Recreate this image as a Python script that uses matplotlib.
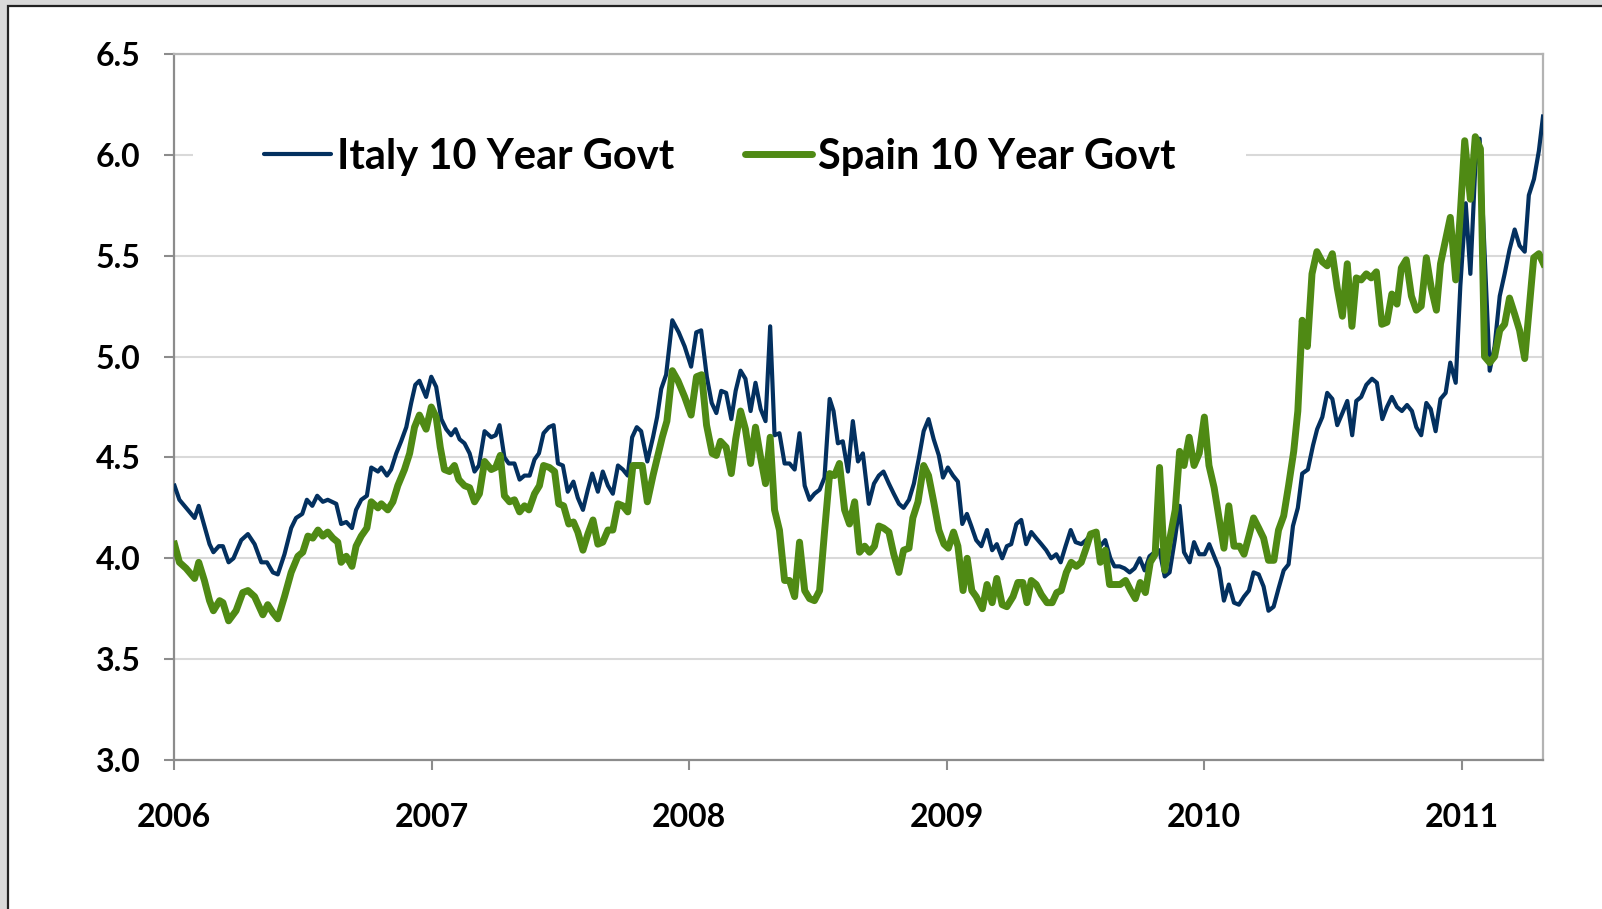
import matplotlib
matplotlib.use("Agg")
import matplotlib.pyplot as plt
from matplotlib.patches import Rectangle
from matplotlib.lines import Line2D

plt.rcParams['font.family'] = ['Lato', 'DejaVu Sans']
plt.rcParams['font.weight'] = 'bold'

# years since start of 2006, weekly readings
italy_t = [0.002, 0.021, 0.047, 0.080, 0.096, 0.118, 0.138, 0.153, 0.174, 0.190, 0.212, 0.231, 0.261, 0.287, 0.313,
           0.339, 0.361, 0.384, 0.403, 0.429, 0.455, 0.474, 0.498, 0.516, 0.537, 0.556, 0.578, 0.597, 0.630, 0.649,
           0.669, 0.691, 0.707, 0.727, 0.749, 0.766, 0.792, 0.805, 0.827, 0.843, 0.863, 0.882, 0.902, 0.921, 0.937,
           0.953, 0.979, 0.999, 1.018, 1.038, 1.057, 1.076, 1.093, 1.109, 1.128, 1.148, 1.167, 1.184, 1.206, 1.232,
           1.249, 1.264, 1.283, 1.300, 1.322, 1.342, 1.361, 1.381, 1.400, 1.417, 1.435, 1.456, 1.474, 1.491, 1.510,
           1.529, 1.551, 1.568, 1.588, 1.607, 1.624, 1.646, 1.665, 1.685, 1.704, 1.724, 1.743, 1.762, 1.779, 1.797,
           1.814, 1.838, 1.860, 1.876, 1.892, 1.911, 1.935, 1.960, 1.983, 2.008, 2.028, 2.047, 2.069, 2.088, 2.106,
           2.125, 2.144, 2.164, 2.181, 2.200, 2.219, 2.239, 2.258, 2.278, 2.297, 2.315, 2.332, 2.351, 2.371, 2.390,
           2.410, 2.429, 2.449, 2.468, 2.487, 2.507, 2.526, 2.546, 2.561, 2.578, 2.597, 2.617, 2.636, 2.656, 2.675,
           2.698, 2.718, 2.737, 2.755, 2.776, 2.795, 2.815, 2.833, 2.854, 2.873, 2.893, 2.911, 2.930, 2.950, 2.970,
           2.986, 3.005, 3.025, 3.044, 3.061, 3.079, 3.096, 3.115, 3.135, 3.157, 3.177, 3.195, 3.216, 3.234, 3.251,
           3.271, 3.290, 3.309, 3.329, 3.348, 3.368, 3.387, 3.406, 3.426, 3.443, 3.462, 3.482, 3.501, 3.523, 3.542,
           3.562, 3.581, 3.597, 3.616, 3.636, 3.652, 3.672, 3.691, 3.711, 3.730, 3.750, 3.769, 3.788, 3.808, 3.827,
           3.847, 3.866, 3.886, 3.905, 3.922, 3.944, 3.961, 3.981, 4.002, 4.020, 4.039, 4.058, 4.077, 4.096, 4.116,
           4.135, 4.155, 4.174, 4.192, 4.212, 4.231, 4.250, 4.270, 4.289, 4.309, 4.328, 4.345, 4.364, 4.381, 4.403,
           4.423, 4.439, 4.459, 4.478, 4.498, 4.517, 4.537, 4.556, 4.575, 4.591, 4.610, 4.630, 4.652, 4.671, 4.692,
           4.710, 4.729, 4.749, 4.768, 4.788, 4.807, 4.824, 4.843, 4.863, 4.880, 4.899, 4.918, 4.938, 4.956, 4.977,
           4.995, 5.016, 5.034, 5.053, 5.070, 5.109, 5.128, 5.148, 5.167, 5.186, 5.206, 5.225, 5.245, 5.261, 5.281,
           5.300, 5.316]
italy_y = [4.36, 4.29, 4.25, 4.20, 4.26, 4.16, 4.07, 4.03, 4.06, 4.06, 3.98, 4.00, 4.09, 4.12, 4.07,
           3.98, 3.98, 3.93, 3.92, 4.02, 4.15, 4.20, 4.22, 4.29, 4.26, 4.31, 4.28, 4.29, 4.27, 4.17,
           4.18, 4.15, 4.24, 4.29, 4.31, 4.45, 4.43, 4.45, 4.41, 4.44, 4.52, 4.58, 4.65, 4.77, 4.86,
           4.88, 4.80, 4.90, 4.85, 4.69, 4.64, 4.61, 4.64, 4.59, 4.57, 4.52, 4.43, 4.46, 4.63, 4.60,
           4.61, 4.66, 4.50, 4.47, 4.47, 4.39, 4.41, 4.41, 4.49, 4.52, 4.62, 4.65, 4.66, 4.47, 4.46,
           4.33, 4.38, 4.30, 4.24, 4.34, 4.42, 4.33, 4.43, 4.36, 4.32, 4.46, 4.44, 4.41, 4.60, 4.65,
           4.63, 4.48, 4.60, 4.70, 4.84, 4.91, 5.18, 5.12, 5.05, 4.95, 5.12, 5.13, 4.90, 4.77, 4.72,
           4.83, 4.82, 4.69, 4.83, 4.93, 4.89, 4.73, 4.87, 4.74, 4.68, 5.15, 4.61, 4.62, 4.47, 4.47,
           4.44, 4.62, 4.36, 4.29, 4.32, 4.34, 4.40, 4.79, 4.73, 4.57, 4.58, 4.43, 4.68, 4.48, 4.52,
           4.27, 4.37, 4.41, 4.43, 4.37, 4.32, 4.27, 4.25, 4.29, 4.37, 4.50, 4.63, 4.69, 4.59, 4.51,
           4.40, 4.45, 4.41, 4.38, 4.17, 4.22, 4.16, 4.09, 4.06, 4.14, 4.04, 4.07, 4.00, 4.06, 4.07,
           4.17, 4.19, 4.07, 4.13, 4.10, 4.07, 4.04, 4.00, 4.02, 3.98, 4.06, 4.14, 4.08, 4.07, 4.09,
           4.12, 4.11, 4.06, 4.09, 4.00, 3.96, 3.96, 3.95, 3.93, 3.95, 4.00, 3.94, 4.01, 4.03, 4.04,
           3.91, 3.93, 4.09, 4.26, 4.03, 3.98, 4.08, 4.02, 4.02, 4.07, 4.01, 3.95, 3.79, 3.87, 3.78,
           3.77, 3.81, 3.84, 3.93, 3.92, 3.86, 3.74, 3.76, 3.85, 3.94, 3.97, 4.16, 4.25, 4.42, 4.44,
           4.56, 4.64, 4.70, 4.82, 4.79, 4.66, 4.72, 4.78, 4.61, 4.78, 4.80, 4.86, 4.89, 4.87, 4.69,
           4.75, 4.80, 4.75, 4.73, 4.76, 4.73, 4.65, 4.61, 4.77, 4.74, 4.63, 4.79, 4.82, 4.97, 4.87,
           5.35, 5.76, 5.41, 5.94, 6.08, 4.93, 5.05, 5.30, 5.41, 5.53, 5.63, 5.55, 5.52, 5.80, 5.88,
           6.02, 6.19]

spain_t = [0.002, 0.021, 0.047, 0.080, 0.096, 0.118, 0.138, 0.153, 0.177, 0.190, 0.212, 0.241, 0.267, 0.287, 0.313,
           0.345, 0.364, 0.384, 0.403, 0.429, 0.455, 0.481, 0.500, 0.520, 0.539, 0.559, 0.578, 0.597, 0.617, 0.636,
           0.649, 0.669, 0.691, 0.707, 0.727, 0.749, 0.766, 0.792, 0.805, 0.830, 0.850, 0.869, 0.895, 0.915, 0.934,
           0.953, 0.979, 0.999, 1.018, 1.034, 1.050, 1.070, 1.089, 1.106, 1.128, 1.148, 1.167, 1.186, 1.206, 1.232,
           1.249, 1.267, 1.283, 1.303, 1.322, 1.342, 1.361, 1.378, 1.400, 1.419, 1.435, 1.458, 1.478, 1.494, 1.513,
           1.533, 1.551, 1.568, 1.588, 1.607, 1.627, 1.646, 1.665, 1.685, 1.704, 1.724, 1.743, 1.762, 1.782, 1.801,
           1.818, 1.838, 1.860, 1.879, 1.896, 1.914, 1.935, 1.957, 1.983, 2.008, 2.029, 2.049, 2.068, 2.090, 2.106,
           2.122, 2.144, 2.164, 2.181, 2.200, 2.219, 2.239, 2.258, 2.278, 2.297, 2.315, 2.332, 2.351, 2.371, 2.390,
           2.410, 2.429, 2.449, 2.468, 2.487, 2.507, 2.526, 2.546, 2.565, 2.584, 2.604, 2.623, 2.643, 2.662, 2.682,
           2.701, 2.720, 2.737, 2.755, 2.776, 2.795, 2.815, 2.833, 2.854, 2.869, 2.889, 2.911, 2.930, 2.950, 2.970,
           2.990, 3.007, 3.027, 3.044, 3.064, 3.080, 3.098, 3.115, 3.139, 3.157, 3.177, 3.195, 3.216, 3.234, 3.258,
           3.277, 3.296, 3.312, 3.329, 3.348, 3.368, 3.390, 3.410, 3.428, 3.445, 3.465, 3.484, 3.504, 3.523, 3.542,
           3.559, 3.581, 3.597, 3.616, 3.633, 3.652, 3.674, 3.695, 3.715, 3.733, 3.752, 3.772, 3.791, 3.810, 3.827,
           3.847, 3.866, 3.888, 3.905, 3.922, 3.942, 3.961, 3.981, 4.001, 4.019, 4.039, 4.058, 4.077, 4.096, 4.116,
           4.138, 4.155, 4.174, 4.192, 4.212, 4.231, 4.250, 4.271, 4.289, 4.309, 4.328, 4.348, 4.364, 4.381, 4.401,
           4.419, 4.438, 4.459, 4.478, 4.498, 4.517, 4.537, 4.556, 4.574, 4.591, 4.610, 4.630, 4.649, 4.669, 4.690,
           4.710, 4.729, 4.749, 4.766, 4.785, 4.805, 4.824, 4.843, 4.863, 4.882, 4.902, 4.918, 4.938, 4.956, 4.977,
           4.995, 5.012, 5.034, 5.053, 5.073, 5.089, 5.109, 5.128, 5.148, 5.167, 5.186, 5.206, 5.225, 5.245, 5.264,
           5.280, 5.300, 5.318]
spain_y = [4.07, 3.98, 3.95, 3.90, 3.98, 3.89, 3.79, 3.74, 3.79, 3.78, 3.69, 3.74, 3.83, 3.84, 3.81,
           3.72, 3.77, 3.73, 3.70, 3.81, 3.93, 4.01, 4.03, 4.11, 4.10, 4.14, 4.11, 4.13, 4.10, 4.08,
           3.98, 4.01, 3.96, 4.06, 4.11, 4.15, 4.28, 4.25, 4.27, 4.24, 4.28, 4.36, 4.44, 4.52, 4.65,
           4.71, 4.64, 4.75, 4.70, 4.55, 4.44, 4.43, 4.46, 4.39, 4.36, 4.35, 4.28, 4.32, 4.48, 4.44,
           4.45, 4.51, 4.31, 4.28, 4.29, 4.23, 4.26, 4.24, 4.32, 4.36, 4.46, 4.45, 4.43, 4.27, 4.26,
           4.17, 4.18, 4.13, 4.04, 4.12, 4.19, 4.07, 4.08, 4.14, 4.14, 4.27, 4.26, 4.23, 4.46, 4.46,
           4.46, 4.28, 4.41, 4.51, 4.60, 4.68, 4.93, 4.88, 4.80, 4.71, 4.90, 4.91, 4.66, 4.52, 4.51,
           4.58, 4.55, 4.42, 4.59, 4.73, 4.64, 4.47, 4.65, 4.50, 4.37, 4.60, 4.24, 4.14, 3.89, 3.89,
           3.81, 4.08, 3.84, 3.80, 3.79, 3.84, 4.13, 4.42, 4.41, 4.47, 4.24, 4.17, 4.28, 4.03, 4.06,
           4.03, 4.06, 4.16, 4.15, 4.13, 4.02, 3.93, 4.04, 4.05, 4.20, 4.28, 4.46, 4.41, 4.28, 4.14,
           4.07, 4.05, 4.13, 4.06, 3.84, 4.00, 3.84, 3.81, 3.75, 3.87, 3.78, 3.90, 3.77, 3.76, 3.81,
           3.88, 3.88, 3.78, 3.89, 3.87, 3.82, 3.78, 3.78, 3.83, 3.84, 3.93, 3.98, 3.96, 3.98, 4.05,
           4.12, 4.13, 3.98, 4.04, 3.87, 3.87, 3.87, 3.89, 3.84, 3.80, 3.88, 3.83, 3.98, 4.02, 4.45,
           3.94, 4.09, 4.24, 4.53, 4.46, 4.60, 4.46, 4.52, 4.70, 4.46, 4.35, 4.20, 4.05, 4.26, 4.06,
           4.06, 4.02, 4.11, 4.20, 4.15, 4.10, 3.99, 3.99, 4.14, 4.21, 4.36, 4.53, 4.73, 5.18, 5.05,
           5.41, 5.52, 5.47, 5.45, 5.51, 5.34, 5.20, 5.46, 5.15, 5.39, 5.38, 5.41, 5.39, 5.42, 5.16,
           5.17, 5.31, 5.26, 5.44, 5.48, 5.30, 5.23, 5.25, 5.49, 5.34, 5.23, 5.46, 5.58, 5.69, 5.38,
           5.71, 6.07, 5.78, 6.09, 6.03, 5.00, 4.97, 5.00, 5.13, 5.16, 5.29, 5.21, 5.13, 4.99, 5.26,
           5.49, 5.51, 5.46]

start_year = 2006
year_ticks = [2006, 2007, 2008, 2009, 2010, 2011]
value_ticks = [3.0, 3.5, 4.0, 4.5, 5.0, 5.5, 6.0, 6.5]
labels = ['Italy 10 Year Govt', 'Spain 10 Year Govt']

italy_x = [start_year + t for t in italy_t]
spain_x = [start_year + t for t in spain_t]

fig = plt.figure(figsize=(16.02, 9.09), dpi=100)
fig.patch.set_facecolor('#d9d9d9')
fig.add_artist(Rectangle((8 / 1602, -0.05), 1.1, 1.05 - 6 / 909, transform=fig.transFigure,
                         facecolor='white', edgecolor='#222222', linewidth=1.6, zorder=-10))

ax = fig.add_axes([174 / 1602, 1 - 760 / 909, (1543 - 174) / 1602, (760 - 54) / 909])
ax.set_facecolor('white')

italy_color = '#03305f'
spain_color = '#4f8a14'
ax.plot(italy_x, italy_y, color=italy_color, lw=3.0, solid_joinstyle='round', zorder=3)
ax.plot(spain_x, spain_y, color=spain_color, lw=5.0, solid_joinstyle='round', zorder=4)

ax.set_xlim(2006.0, 2011.316)
ax.set_ylim(3.0, 6.5)
ax.set_xticks(year_ticks)
ax.set_xticklabels([str(y) for y in year_ticks])
ax.set_yticks(value_ticks)
ax.set_yticklabels(['%.1f' % v for v in value_ticks])

ax.grid(axis='y', color='#d9d9d9', lw=1.5, zorder=0)
ax.set_axisbelow(True)
for side in ['left', 'bottom']:
    ax.spines[side].set_color('#8c8c8c')
    ax.spines[side].set_linewidth(1.6)
for side in ['top', 'right']:
    ax.spines[side].set_color('#b3b3b3')
    ax.spines[side].set_linewidth(1.6)
ax.tick_params(axis='both', direction='out', length=7, width=1.5, color='#8c8c8c', labelsize=23)
ax.tick_params(axis='y', pad=17)
ax.tick_params(axis='x', pad=24)

handles = [Line2D([0], [0], color=italy_color, lw=3.0, solid_capstyle='round'),
           Line2D([0], [0], color=spain_color, lw=5.0, solid_capstyle='round')]
leg = ax.legend(handles, labels, loc='center left', bbox_to_anchor=(2006.075, 5.99),
                bbox_transform=ax.transData, ncol=2, fontsize=30, frameon=True, framealpha=1,
                facecolor='white', edgecolor='none', fancybox=False, borderpad=1.7,
                borderaxespad=0, handlelength=1.6, handletextpad=0.15, columnspacing=1.7)
leg.set_zorder(2)

fig.savefig('out.png', dpi=100, facecolor=fig.get_facecolor())
